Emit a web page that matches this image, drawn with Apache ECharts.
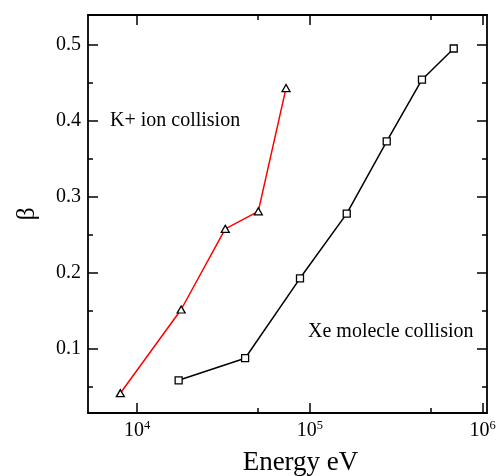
<!DOCTYPE html>
<html><head><meta charset="utf-8">
<script src="https://cdn.jsdelivr.net/npm/echarts@6/dist/echarts.min.js"></script>
<style>html,body{margin:0;padding:0;background:#fff}#c{width:497px;height:476px}</style>
</head><body><div id="c"></div>
<script>
const kEnergy = [8000, 18000, 32400, 50300, 72800];
const kBeta = [0.042, 0.152, 0.258, 0.281, 0.443];
const xeEnergy = [17400, 42200, 87700, 163500, 278600, 445500, 680400];
const xeBeta = [0.059, 0.088, 0.193, 0.278, 0.373, 0.454, 0.495];
const xMajorTicks = [1e4, 1e5, 1e6];
const xMinorTicks = [5e3, 5e4, 5e5];
const yMajorTicks = [0.1, 0.2, 0.3, 0.4, 0.5];
const yMinorTicks = [0.05, 0.15, 0.25, 0.35, 0.45];
const xMin = 5200, xMax = 1.06e6, yMin = 0.016, yMax = 0.539;

const FONT = 'Liberation Serif';
const chart = echarts.init(document.getElementById('c'));
const axisLine = {show: true, lineStyle: {color: '#000', width: 1.8}};
function xAx(pos, major, withLabel, withName) {
  return {
    type: 'log', logBase: 10, position: pos, min: xMin, max: xMax,
    axisLine: major ? axisLine : {show: false},
    axisTick: {show: true, inside: true, length: major ? 10 : 5, customValues: major ? xMajorTicks : xMinorTicks, lineStyle: {color: '#000', width: 1.5}},
    axisLabel: withLabel ? {
      show: true, margin: 6, customValues: xMajorTicks,
      formatter: v => '{b|10}{s|' + Math.round(Math.log10(v)) + '}',
      rich: {b: {fontFamily: FONT, fontSize: 20, color: '#000', verticalAlign: 'bottom'},
             s: {fontFamily: FONT, fontSize: 12.5, color: '#000', verticalAlign: 'bottom', padding: [0, 0, 9, 0]}}
    } : {show: false},
    splitLine: {show: false},
    name: withName ? 'Energy eV' : '', nameLocation: 'middle', nameGap: 36,
    nameTextStyle: {fontFamily: FONT, fontSize: 27, color: '#000', padding: [0, 0, 0, 26]}
  };
}
function yAx(pos, major, withLabel, withName) {
  return {
    type: 'value', position: pos, min: yMin, max: yMax,
    axisLine: major ? axisLine : {show: false},
    axisTick: {show: true, inside: true, length: major ? 10 : 5, customValues: major ? yMajorTicks : yMinorTicks, lineStyle: {color: '#000', width: 1.5}},
    axisLabel: withLabel ? {show: true, margin: 7, customValues: yMajorTicks, formatter: v => v.toFixed(1),
      fontFamily: FONT, fontSize: 20, color: '#000'} : {show: false},
    splitLine: {show: false},
    name: withName ? 'β' : '', nameLocation: 'middle', nameGap: 48, nameRotate: 90,
    nameTextStyle: {fontFamily: FONT, fontSize: 26, color: '#000'}
  };
}
const sym = {borderColor: '#000', borderWidth: 1.3, color: '#fff'};
chart.setOption({
  animation: false,
  backgroundColor: '#fff',
  grid: {left: 88, top: 15, right: 10, bottom: 63, containLabel: false, outerBoundsMode: 'none'},
  xAxis: [xAx('bottom', true, true, true), xAx('bottom', false, false, false), xAx('top', true, false, false), xAx('top', false, false, false)],
  yAxis: [yAx('left', true, true, true), yAx('left', false, false, false), yAx('right', true, false, false), yAx('right', false, false, false)],
  series: [
    {type: 'line', xAxisIndex: 0, yAxisIndex: 0, data: kEnergy.map((e, i) => [e, kBeta[i]]),
     symbol: 'triangle', symbolSize: [8, 7], showAllSymbol: true, lineStyle: {color: '#ff0000', width: 1.5}, itemStyle: sym, z: 3},
    {type: 'line', xAxisIndex: 0, yAxisIndex: 0, data: xeEnergy.map((e, i) => [e, xeBeta[i]]),
     symbol: 'rect', symbolSize: 7, showAllSymbol: true, lineStyle: {color: '#000', width: 1.5}, itemStyle: sym, z: 3}
  ],
  graphic: [
    {type: 'text', left: 110, top: 111, style: {text: 'K+ ion collision', font: '20px "Liberation Serif"', fill: '#000'}},
    {type: 'text', left: 308, top: 322, style: {text: 'Xe molecle collision', font: '20px "Liberation Serif"', fill: '#000'}}
  ]
});
</script></body></html>
